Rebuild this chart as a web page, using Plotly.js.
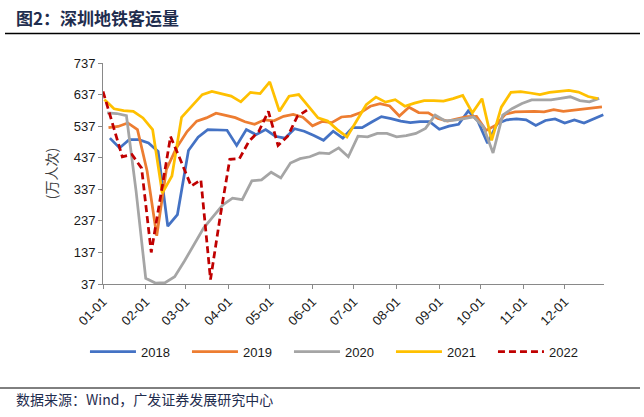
<!DOCTYPE html>
<html>
<head>
<meta charset="utf-8">
<script src="https://cdn.plot.ly/plotly-3.0.1.min.js"></script>
<style>
  html, body { margin: 0; padding: 0; background: #fff; }
  #chart { width: 644px; height: 417px; }
</style>
</head>
<body>
<div id="chart"></div>
<script>
// ---- data (weekly, plotted on a common month-day axis) ----
const seriesNames = ['2018', '2019', '2020', '2021', '2022'];

const dates2018 = ['01-06','01-13','01-20','01-27','02-03','02-10','02-17','02-24','03-03','03-10','03-17','03-24','03-31','04-07','04-14','04-21','04-28','05-05','05-12','05-19','05-26','06-02','06-09','06-16','06-23','06-30','07-07','07-14','07-21','07-28','08-04','08-11','08-18','08-25','09-01','09-08','09-15','09-22','09-29','10-06','10-13','10-20','10-27','11-03','11-10','11-17','11-24','12-01','12-08','12-15','12-22','12-29'];
const values2018 = [499,468,494,494,484,457,220,257,460,502,526,526,524,476,526,510,526,505,499,529,521,507,492,521,499,532,532,550,567,561,553,548,551,551,527,537,543,585,553,483,545,557,560,557,539,555,560,547,557,547,560,573];

const dates2019 = ['01-05','01-12','01-19','01-26','02-02','02-09','02-16','02-23','03-02','03-09','03-16','03-23','03-30','04-06','04-13','04-20','04-27','05-04','05-11','05-18','05-25','06-01','06-08','06-15','06-22','06-29','07-06','07-13','07-20','07-27','08-03','08-10','08-17','08-24','08-31','09-07','09-14','09-21','09-28','10-05','10-12','10-19','10-26','11-02','11-09','11-16','11-23','11-30','12-07','12-14','12-21','12-28'];
const values2019 = [532,536,547,526,395,190,400,466,520,553,563,578,571,564,551,543,557,554,568,574,565,538,552,548,566,569,580,600,608,601,569,597,580,579,561,553,560,567,568,523,540,575,582,584,584,582,589,584,587,590,593,598];

const dates2020 = ['01-04','01-11','01-18','01-25','02-01','02-08','02-15','02-22','02-29','03-07','03-14','03-21','03-28','04-04','04-11','04-18','04-25','05-02','05-09','05-16','05-23','05-30','06-06','06-13','06-20','06-27','07-04','07-11','07-18','07-25','08-01','08-08','08-15','08-22','08-29','09-05','09-12','09-19','09-26','10-03','10-10','10-17','10-24','10-31','11-07','11-14','11-21','11-28','12-05','12-12','12-19','12-26'];
const values2020 = [579,577,570,331,55,40,41,60,109,161,214,251,288,309,304,364,367,391,373,420,434,440,452,450,468,440,505,503,514,514,503,507,514,530,572,554,556,561,566,535,452,572,593,609,620,620,620,625,630,618,614,625];

const dates2021 = ['01-02','01-09','01-16','01-23','01-30','02-06','02-13','02-20','02-27','03-06','03-13','03-20','03-27','04-03','04-10','04-17','04-24','05-01','05-08','05-15','05-22','05-29','06-05','06-12','06-19','06-26','07-03','07-10','07-17','07-24','07-31','08-07','08-14','08-21','08-28','09-04','09-11','09-18','09-25','10-02','10-09','10-16','10-23','10-30','11-06','11-13','11-20','11-27','12-04','12-11','12-18','12-25'];
const values2021 = [621,592,586,584,563,526,325,379,565,605,637,647,640,632,614,644,640,677,584,632,637,600,563,553,526,503,552,605,629,613,621,600,610,618,618,616,624,634,579,624,492,597,644,646,642,637,644,647,650,645,631,624];

const dates2022 = ['01-01','01-08','01-15','01-22','01-29','02-05','02-12','02-19','02-26','03-05','03-12','03-19','03-26','04-02','04-09','04-16','04-23','04-30','05-07','05-14','05-21','05-28'];
const values2022 = [647,540,440,447,404,137,315,504,432,347,367,51,250,432,434,490,520,584,476,505,568,588];

const monthTickDates = ['01-01','02-01','03-01','04-01','05-01','06-01','07-01','08-01','09-01','10-01','11-01','12-01'];
const monthTickLabels = ['01-01','02-01','03-01','04-01','05-01','06-01','07-01','08-01','09-01','10-01','11-01','12-01'];
const yTickValues = [37,137,237,337,437,537,637,737];

// ---- build ----
const BASE_YEAR = '2020-';
const toX = arr => arr.map(d => BASE_YEAR + d);

const allDates = [dates2018, dates2019, dates2020, dates2021, dates2022];
const allValues = [values2018, values2019, values2020, values2021, values2022];
const colors = ['#4472C4', '#ED7D31', '#A5A5A5', '#FFC000', '#C00000'];
const dashes = ['solid', 'solid', 'solid', 'solid', '7px,4px'];

const traces = seriesNames.map((name, i) => ({
  type: 'scatter',
  mode: 'lines',
  name: name,
  x: toX(allDates[i]),
  y: allValues[i],
  line: { color: colors[i], width: 2.75, dash: dashes[i] },
  hoverinfo: 'x+y+name'
}));

const font = '"Liberation Sans", Arial, "Noto Sans CJK SC", sans-serif';
const cjk = '"Noto Sans CJK SC", "Liberation Sans", sans-serif';

const layout = {
  width: 644,
  height: 417,
  margin: { l: 103, r: 40, t: 63, b: 133 },
  paper_bgcolor: '#ffffff',
  plot_bgcolor: '#ffffff',
  font: { family: font, size: 13, color: '#1a1a1a' },
  showlegend: true,
  title: {
    text: '<b>图2：深圳地铁客运量</b>',
    font: { family: cjk, size: 17, color: '#1F2D4E' },
    x: 16 / 644, xref: 'container', xanchor: 'left',
    y: 1 - 19 / 417, yref: 'container', yanchor: 'middle'
  },
  xaxis: {
    type: 'date',
    range: [BASE_YEAR + '01-01', BASE_YEAR + '12-29 12:00'],
    tickmode: 'array',
    tickvals: toX(monthTickDates),
    ticktext: monthTickLabels,
    tickangle: -45,
    ticks: 'outside',
    ticklen: 4,
    tickcolor: '#898989',
    showline: true,
    linecolor: '#898989',
    linewidth: 1,
    showgrid: false,
    zeroline: false,
    tickfont: { family: font, size: 13, color: '#1a1a1a' },
    fixedrange: true
  },
  yaxis: {
    range: [37, 737],
    tickmode: 'array',
    tickvals: yTickValues,
    ticktext: yTickValues.map(String),
    ticks: 'outside',
    ticklen: 4,
    tickcolor: '#898989',
    showline: true,
    linecolor: '#898989',
    linewidth: 1,
    showgrid: false,
    zeroline: false,
    tickfont: { family: font, size: 13, color: '#1a1a1a' },
    title: { text: '(万人次)', font: { family: cjk, size: 14, color: '#404040' }, standoff: 12 },
    fixedrange: true
  },
  legend: {
    orientation: 'h',
    x: -0.036, xanchor: 'left',
    y: -0.306, yanchor: 'middle',
    font: { family: font, size: 13, color: '#1a1a1a' },
    itemwidth: 46,
    entrywidth: 41,
    entrywidthmode: 'pixels',
    bgcolor: 'rgba(0,0,0,0)'
  },
  shapes: [
    { type: 'line', xref: 'paper', yref: 'paper',
      x0: (5 - 103) / 501, x1: (640 - 103) / 501,
      y0: (284 - 33.5) / 221, y1: (284 - 33.5) / 221,
      line: { color: '#000000', width: 1.5 } },
    { type: 'line', xref: 'paper', yref: 'paper',
      x0: (0 - 103) / 501, x1: (640 - 103) / 501,
      y0: (284 - 388) / 221, y1: (284 - 388) / 221,
      line: { color: '#000000', width: 1 } }
  ],
  annotations: [
    { text: '数据来源：Wind，广发证券发展研究中心', showarrow: false,
      xref: 'paper', yref: 'paper',
      x: (14 - 103) / 501, xanchor: 'left',
      y: (284 - 399) / 221, yanchor: 'middle',
      font: { family: cjk, size: 14, color: '#1F2D4E' } }
  ]
};

Plotly.newPlot('chart', traces, layout, { displayModeBar: false, staticPlot: true });
</script>
</body>
</html>
